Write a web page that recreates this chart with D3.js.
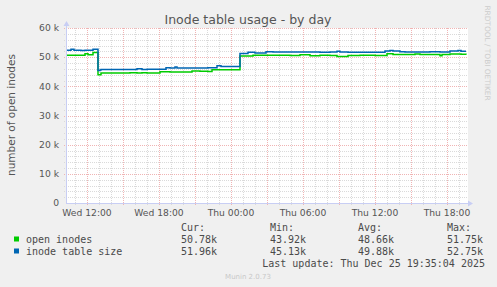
<!DOCTYPE html>
<html>
<head>
<meta charset="utf-8">
<script src="https://cdn.jsdelivr.net/npm/d3@7"></script>
<style>
  html, body { margin: 0; padding: 0; background: #f0f0f0; }
  svg { display: block; }
</style>
</head>
<body>
<svg id="chart" width="497" height="287"></svg>
<script>
// minutes after the graph start (Wed 24 Dec 10:15:04)
const minutes = [
  0, 25, 40, 75, 95, 110, 135, 160, 170, 175,
  320, 355, 380, 405, 470, 500, 520, 545, 555, 630,
  670, 710, 730, 755, 775, 870, 910, 935, 945, 1000,
  1035, 1120, 1170, 1220, 1270, 1320, 1355, 1370, 1410, 1470,
  1545, 1595, 1605, 1620, 1635, 1670, 1695, 1745, 1770, 1820,
  1870, 1880, 1920, 1960, 1975, 2000];

// values in thousands
const openInodes = [
  50.7, 50.7, 50.7, 50.7, 51.2, 50.8, 51.6, 44.0, 44.0, 44.6,
  44.7, 44.6, 44.7, 44.6, 45.0, 45.0, 44.9, 44.9, 44.9, 45.3,
  45.2, 45.1, 45.7, 45.7, 45.7, 50.4, 50.4, 50.7, 50.7, 50.7,
  50.7, 50.6, 50.8, 50.5, 50.7, 50.6, 50.2, 50.2, 50.6, 50.7,
  50.6, 50.6, 51.2, 51.2, 50.9, 50.9, 50.9, 51.1, 50.9, 50.9,
  50.5, 50.9, 51.1, 51.1, 51.0, 50.8];

const tableSize = [
  52.4, 52.7, 52.4, 52.3, 52.4, 52.4, 52.7, 45.4, 45.6, 45.8,
  45.8, 46.0, 45.8, 45.9, 45.9, 46.4, 46.3, 46.6, 46.3, 46.3,
  46.3, 46.4, 46.4, 47.1, 46.8, 51.3, 51.7, 51.7, 51.4, 51.9,
  51.8, 51.8, 51.8, 51.8, 51.7, 51.8, 52.0, 51.8, 51.7, 51.7,
  51.7, 52.1, 52.1, 52.3, 52.1, 51.9, 51.8, 51.8, 51.8, 51.9,
  51.8, 51.8, 52.1, 52.3, 52.0, 52.0];

const seriesNames = ['open inodes', 'inode table size'];
const seriesColors = ['#00cc00', '#0066b3'];
const statHeads = ['Cur:', 'Min:', 'Avg:', 'Max:'];
const statValues = [
  ['50.78k', '43.92k', '48.66k', '51.75k'],
  ['51.96k', '45.13k', '49.88k', '52.75k']];
const yTicks = [0, 10, 20, 30, 40, 50, 60];

const svg = d3.select('#chart');
const W = 497;
const H = 287;
const m = { l: 66, r: 466, t: 28, b: 203 };

const start = new Date(2025, 11, 24, 10, 15, 4);
const end = d3.timeMinute.offset(start, 2000);

const x = d3.scaleTime().domain([start, end]).range([m.l, m.r]);
const y = d3.scaleLinear().domain([0, 60]).range([m.b, m.t]);

svg.append('rect')
  .attr('width', W)
  .attr('height', H)
  .attr('fill', '#f0f0f0');

svg.append('rect')
  .attr('x', m.l)
  .attr('y', m.t)
  .attr('width', m.r - m.l + 2)
  .attr('height', m.b - m.t)
  .attr('fill', '#ffffff');

// minor grid
const minorY = d3.range(0, 61, 2).filter(v => v % 10 !== 0);
svg.selectAll('line.ygrid-minor')
  .data(minorY)
  .enter()
  .append('line')
  .attr('x1', m.l - 2)
  .attr('x2', m.r + 2)
  .attr('y1', d => Math.round(y(d)) + 0.5)
  .attr('y2', d => Math.round(y(d)) + 0.5)
  .attr('stroke', '#dadada')
  .attr('stroke-dasharray', '1,1');

const hours = x.ticks(d3.timeHour.every(1));
svg.selectAll('line.xgrid-minor')
  .data(hours.filter(d => d.getHours() % 3 !== 0))
  .enter()
  .append('line')
  .attr('x1', d => Math.round(x(d)) + 0.5)
  .attr('x2', d => Math.round(x(d)) + 0.5)
  .attr('y1', m.t)
  .attr('y2', m.b + 2)
  .attr('stroke', '#dadada')
  .attr('stroke-dasharray', '1,1');

// major grid
svg.selectAll('line.ygrid')
  .data(yTicks.slice(1))
  .enter()
  .append('line')
  .attr('x1', m.l - 2)
  .attr('x2', m.r + 2)
  .attr('y1', d => Math.round(y(d)) + 0.5)
  .attr('y2', d => Math.round(y(d)) + 0.5)
  .attr('stroke', '#f0b4b4')
  .attr('stroke-dasharray', '1,1');

const major = hours.filter(d => d.getHours() % 3 === 0);
svg.selectAll('line.xgrid')
  .data(major)
  .enter()
  .append('line')
  .attr('x1', d => Math.round(x(d)) + 0.5)
  .attr('x2', d => Math.round(x(d)) + 0.5)
  .attr('y1', m.t)
  .attr('y2', m.b + 2)
  .attr('stroke', '#f0b4b4')
  .attr('stroke-dasharray', '1,1');

// series
const line = d3.line()
  .curve(d3.curveStepAfter)
  .x(d => x(d[0]))
  .y(d => y(d[1]));

[openInodes, tableSize].forEach((vals, i) => {
  const pts = minutes.map((mn, j) => [d3.timeMinute.offset(start, mn), vals[j]]);
  svg.append('path')
    .attr('d', line(pts))
    .attr('fill', 'none')
    .attr('stroke', seriesColors[i])
    .attr('stroke-width', 1.5);
});

// axes
svg.append('line')
  .attr('x1', m.l + 0.5)
  .attr('x2', m.l + 0.5)
  .attr('y1', m.b)
  .attr('y2', m.t - 3)
  .attr('stroke', '#c8cef4');
svg.append('line')
  .attr('x1', m.l)
  .attr('x2', m.r + 4)
  .attr('y1', m.b + 0.5)
  .attr('y2', m.b + 0.5)
  .attr('stroke', '#c8cef4');
svg.append('path')
  .attr('d', `M${m.l - 2.5},${m.t - 2}L${m.l + 3.5},${m.t - 2}L${m.l + 0.5},${m.t - 7}Z`)
  .attr('fill', '#c8cef4');
svg.append('path')
  .attr('d', `M${m.r + 2},${m.b - 2.5}L${m.r + 2},${m.b + 3.5}L${m.r + 7},${m.b + 0.5}Z`)
  .attr('fill', '#c8cef4');

const font = 'DejaVu Sans, sans-serif';
const mono = 'DejaVu Sans Mono, monospace';

svg.selectAll('text.ylab')
  .data(yTicks)
  .enter()
  .append('text')
  .attr('x', 59)
  .attr('y', d => y(d) + 3.3)
  .attr('text-anchor', 'end')
  .attr('font-family', font)
  .attr('font-size', 9.2)
  .attr('fill', '#555')
  .text(d => (d === 0 ? '0' : `${d} k`));

svg.selectAll('text.xlab')
  .data(hours.filter(d => d.getHours() % 6 === 0))
  .enter()
  .append('text')
  .attr('x', d => x(d))
  .attr('y', 216)
  .attr('text-anchor', 'middle')
  .attr('font-family', font)
  .attr('font-size', 9.2)
  .attr('fill', '#555')
  .text(d => d3.timeFormat('%a %H:%M')(d));

svg.append('text')
  .attr('x', 248)
  .attr('y', 24)
  .attr('text-anchor', 'middle')
  .attr('font-family', font)
  .attr('font-size', 12.5)
  .attr('fill', '#555')
  .text('Inode table usage - by day');

svg.append('text')
  .attr('transform', 'translate(15,115) rotate(-90)')
  .attr('text-anchor', 'middle')
  .attr('font-family', font)
  .attr('font-size', 10.5)
  .attr('fill', '#555')
  .text('number of open inodes');

svg.append('text')
  .attr('transform', 'translate(484.5,53) rotate(90)')
  .attr('text-anchor', 'middle')
  .attr('font-family', font)
  .attr('font-size', 7.4)
  .attr('fill', '#cccccc')
  .text('RRDTOOL / TOBI OETIKER');

// legend
const colX = [181, 270, 358, 447];
const rowY = [242.5, 254.5];

svg.selectAll('text.head')
  .data(statHeads)
  .enter()
  .append('text')
  .attr('x', (d, i) => colX[i])
  .attr('y', 230.5)
  .attr('font-family', mono)
  .attr('font-size', 10)
  .attr('fill', '#4a4a4a')
  .text(d => d);

seriesNames.forEach((name, i) => {
  svg.append('rect')
    .attr('x', 14)
    .attr('y', rowY[i] - 6)
    .attr('width', 5)
    .attr('height', 5)
    .attr('fill', seriesColors[i]);
  svg.append('text')
    .attr('x', 26)
    .attr('y', rowY[i])
    .attr('font-family', mono)
    .attr('font-size', 10)
    .attr('fill', '#4a4a4a')
    .text(name);
  svg.selectAll(`text.val${i}`)
    .data(statValues[i])
    .enter()
    .append('text')
    .attr('x', (d, j) => colX[j])
    .attr('y', rowY[i])
    .attr('font-family', mono)
    .attr('font-size', 10)
    .attr('fill', '#4a4a4a')
    .text(d => d);
});

svg.append('text')
  .attr('x', 485)
  .attr('y', 266.5)
  .attr('text-anchor', 'end')
  .attr('font-family', mono)
  .attr('font-size', 10)
  .attr('fill', '#4a4a4a')
  .text('Last update: Thu Dec 25 19:35:04 2025');

svg.append('text')
  .attr('x', 248)
  .attr('y', 279)
  .attr('text-anchor', 'middle')
  .attr('font-family', font)
  .attr('font-size', 7)
  .attr('fill', '#c8c8c8')
  .text('Munin 2.0.73');
</script>
</body>
</html>
